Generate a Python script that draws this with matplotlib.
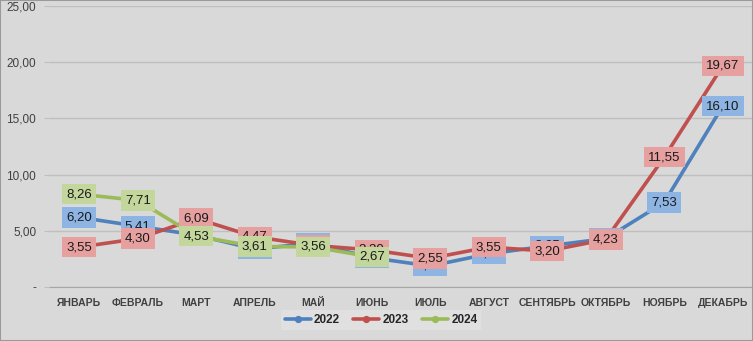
import matplotlib
matplotlib.use("Agg")
import matplotlib.pyplot as plt
import numpy as np

plt.rcParams['font.family'] = ['Liberation Sans', 'DejaVu Sans']

months = ["ЯНВАРЬ", "ФЕВРАЛЬ", "МАРТ", "АПРЕЛЬ", "МАЙ", "ИЮНЬ", "ИЮЛЬ",
          "АВГУСТ", "СЕНТЯБРЬ", "ОКТЯБРЬ", "НОЯБРЬ", "ДЕКАБРЬ"]
s2022 = [6.20, 5.41, 4.62, 3.38, 3.90, 2.60, 1.87, 2.95, 3.65, 4.30, 7.53, 16.10]
s2023 = [3.55, 4.30, 6.09, 4.47, 3.70, 3.30, 2.55, 3.55, 3.20, 4.23, 11.55, 19.67]
s2024 = [8.26, 7.71, 4.53, 3.61, 3.56, 2.67]
yticks = [0, 5, 10, 15, 20, 25]
ytick_labels = ["-", "5,00", "10,00", "15,00", "20,00", "25,00"]

series = [("2022", s2022, "#4F81BD", "#8DB4E2"),
          ("2023", s2023, "#C0504D", "#E6A0A0"),
          ("2024", s2024, "#9BBB59", "#C3D69B")]

bg = "#D9D9D9"
fig = plt.figure(figsize=(7.53, 3.41), dpi=100, facecolor=bg)
ax = fig.add_axes([50/753, 1-287/341, 702/753, 281/341])
ax.set_facecolor(bg)

x = np.arange(len(months))
for i, (name, vals, c, lc) in enumerate(series):
    xi = x[:len(vals)]
    ax.plot(xi, vals, color=c, lw=2.6, marker="o", ms=12, mec=c, mfc=c,
            label=name, zorder=3, solid_capstyle="round")
for i, (name, vals, c, lc) in enumerate(series):
    for xx, v in zip(x, vals):
        ax.annotate(f"{v:.2f}".replace(".", ","), (xx, v), ha="center", va="center",
                    fontsize=9.5, color="#1a1a1a", zorder=10 + i,
                    bbox=dict(boxstyle="square,pad=0.32", fc=lc, ec="none"))

ax.set_xlim(-0.5, len(months) - 0.5)
ax.set_ylim(0, 25)
ax.set_yticks(yticks)
ax.set_yticklabels(ytick_labels, fontsize=8.5, color="#404040")
ax.set_xticks(x)
ax.set_xticklabels(months, fontsize=7.5, fontweight="bold", color="#404040")
ax.grid(axis="y", color="#BFBFBF", lw=1)
ax.set_axisbelow(True)
for s in ["top", "right", "left"]:
    ax.spines[s].set_visible(False)
ax.spines["bottom"].set_color("#A6A6A6")
ax.tick_params(axis="y", length=4, color="#BFBFBF", pad=6)
ax.tick_params(axis="x", length=0, pad=8)

leg = fig.legend(loc="center", bbox_to_anchor=(381/753, 1-320/341), ncol=3,
                 frameon=True, fontsize=8.5, handlelength=2.2, columnspacing=1.1,
                 handletextpad=0.3, borderpad=0.3, markerscale=0.35)
leg.get_frame().set_facecolor("#E3E3E3")
leg.get_frame().set_edgecolor("none")
leg.get_frame().set_boxstyle("square,pad=0")
for t in leg.get_texts():
    t.set_fontweight("bold")
    t.set_color("#262626")

fig.patches.append(plt.Rectangle((0, 0), 1, 1, transform=fig.transFigure,
                                 fill=False, ec="#9A9A9A", lw=1.5))
fig.savefig("out.png", dpi=100, facecolor=bg)
